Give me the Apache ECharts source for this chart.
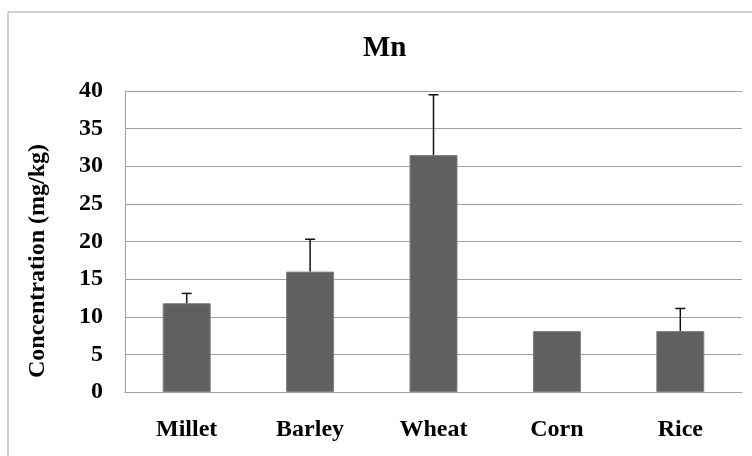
<!DOCTYPE html>
<html lang="en">
<head>
    <meta charset="UTF-8">
    <title>Mn</title>
    <script src="https://cdn.jsdelivr.net/npm/echarts@6/dist/echarts.min.js"></script>
    <style>
        html,body{margin:0;padding:0;background:#fff;}
    </style>
</head>
<body>
    <div id="chart1" style="width:752px;height:456px;"></div>
    <script>
        var myCharts=echarts.init(document.getElementById("chart1"))
        var grains=["Millet","Barley","Wheat","Corn","Rice"]
        var meanVals=[11.8,16.0,31.5,8.1,8.1]
        var upperVals=[13.1,20.3,39.5,8.1,11.1]//top of the error bar
        var yTicks=[0,5,10,15,20,25,30,35,40]
        var serif="Liberation Serif"

        var errData=grains.map(function(g,i){return [i,meanVals[i],upperVals[i]]})

        var option={
            animation:false,
            title:{
                text:"Mn",
                left:358,
                top:29,
                textStyle:{fontFamily:serif,fontSize:29,fontWeight:"bold",color:"#000"}
            },
            grid:{left:125,right:10,top:91,bottom:64},
            graphic:[
                {//outer frame (left and top edges visible)
                    type:"rect",
                    shape:{x:8,y:12,width:800,height:500},
                    style:{fill:"none",stroke:"#a0a0a0",lineWidth:1}
                },
                {
                    type:"text",
                    x:38,y:261,
                    rotation:Math.PI/2,
                    style:{
                        text:"Concentration (mg/kg)",
                        fontFamily:serif,fontSize:24,fontWeight:"bold",fill:"#000",
                        align:"center",verticalAlign:"middle"
                    }
                }
            ],
            xAxis:{
                type:"category",
                data:grains,
                axisLine:{lineStyle:{color:"#a0a0a0",width:1}},
                axisTick:{show:false},
                axisLabel:{fontFamily:serif,fontSize:24,fontWeight:"bold",color:"#000",margin:26}
            },
            yAxis:{
                type:"value",
                min:yTicks[0],
                max:yTicks[yTicks.length-1],
                interval:5,
                axisLine:{show:true,lineStyle:{color:"#a0a0a0",width:1}},
                axisTick:{show:false},
                splitLine:{lineStyle:{color:"#a0a0a0",width:1}},
                axisLabel:{fontFamily:serif,fontSize:24,fontWeight:"bold",color:"#000",margin:22}
            },
            series:[
                {
                    type:"bar",
                    data:meanVals,
                    barWidth:48,
                    itemStyle:{color:"#606060",borderColor:"#808080",borderWidth:1}
                },
                {
                    type:"custom",
                    data:errData,
                    z:5,
                    renderItem:function(params,api){
                        var lo=api.coord([api.value(0),api.value(1)])
                        var hi=api.coord([api.value(0),api.value(2)])
                        if(Math.abs(lo[1]-hi[1])<1) return null
                        var w=5
                        return {
                            type:"group",
                            children:[
                                {type:"line",shape:{x1:lo[0],y1:lo[1],x2:hi[0],y2:hi[1]},style:{stroke:"#111",lineWidth:1.5}},
                                {type:"line",shape:{x1:hi[0]-w,y1:hi[1],x2:hi[0]+w,y2:hi[1]},style:{stroke:"#111",lineWidth:1.5}}
                            ]
                        }
                    }
                }
            ]
        }
        myCharts.setOption(option)
    </script>
</body>
</html>
